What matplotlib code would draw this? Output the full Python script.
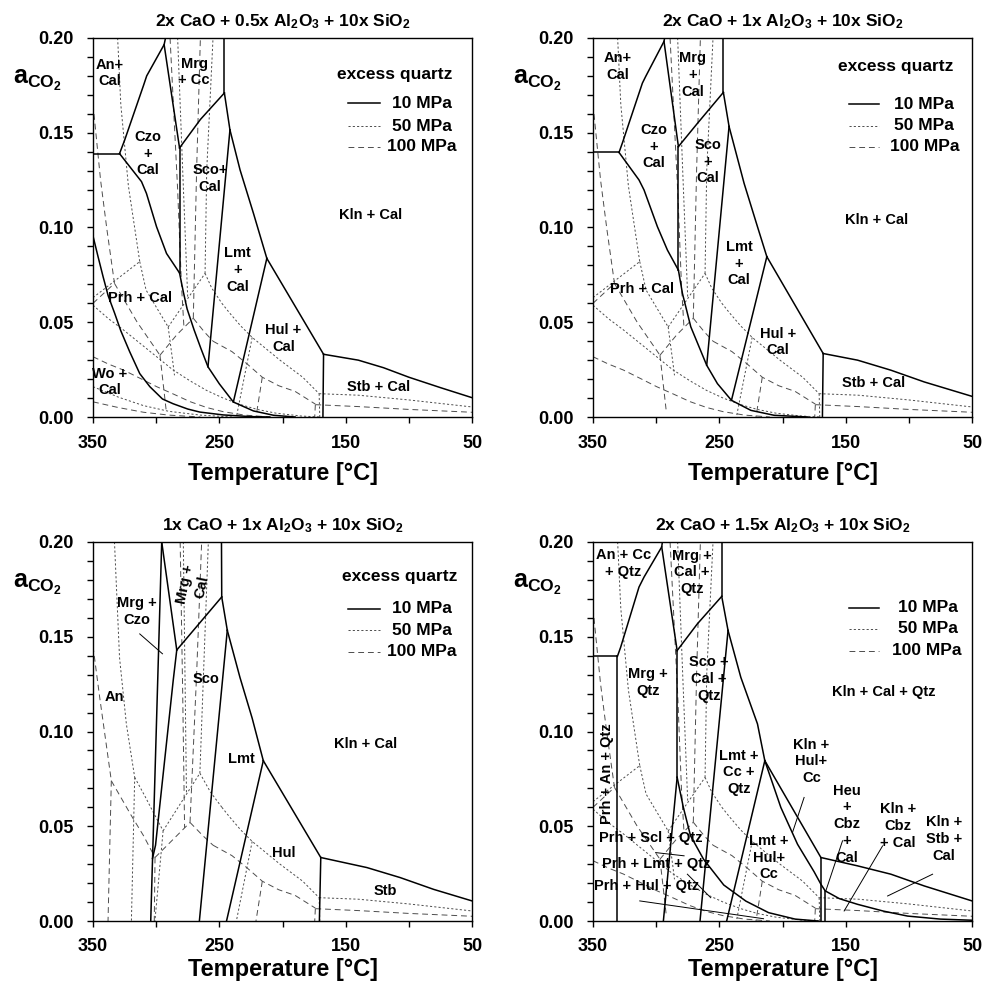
import matplotlib
matplotlib.use('Agg')
import matplotlib.pyplot as plt
from matplotlib.ticker import FixedLocator, MultipleLocator, FormatStrFormatter

plt.rcParams['font.family'] = ['Liberation Sans', 'DejaVu Sans']
plt.rcParams['font.weight'] = 'bold'
plt.rcParams['mathtext.fontset'] = 'custom'
plt.rcParams['mathtext.rm'] = 'Liberation Sans:bold'
plt.rcParams['mathtext.bf'] = 'Liberation Sans:bold'
plt.rcParams['mathtext.it'] = 'Liberation Sans:bold'

# ---- data: polylines as (T [degC], a_CO2) ----
titles = [
    r'2x CaO + 0.5x Al$_\mathbf{2}$O$_\mathbf{3}$ + 10x SiO$_\mathbf{2}$',
    r'2x CaO + 1x Al$_\mathbf{2}$O$_\mathbf{3}$ + 10x SiO$_\mathbf{2}$',
    r'1x CaO + 1x Al$_\mathbf{2}$O$_\mathbf{3}$ + 10x SiO$_\mathbf{2}$',
    r'2x CaO + 1.5x Al$_\mathbf{2}$O$_\mathbf{3}$ + 10x SiO$_\mathbf{2}$',
]
pressures = ['10 MPa', '50 MPa', '100 MPa']

# 10 MPa boundaries
p1_solid = [
    [(350, 0.139), (329, 0.139)],
    [(329, 0.139), (325, 0.146), (310, 0.175), (307.5, 0.180), (293.7, 0.1965), (292.6, 0.2)],
    [(293.7, 0.1965), (281.5, 0.142)],
    [(281.5, 0.142), (281.5, 0.076)],
    [(329, 0.139), (311.6, 0.1242), (307.7, 0.118), (299.7, 0.1004), (291.8, 0.0863), (281.5, 0.076)],
    [(281.5, 0.142), (265, 0.157), (246, 0.171)],
    [(246, 0.2), (246, 0.171)],
    [(246, 0.171), (241.6, 0.1515)],
    [(241.6, 0.1515), (259, 0.0265)],
    [(241.6, 0.1515), (233.6, 0.1304), (223, 0.1075), (212.4, 0.0837)],
    [(212.4, 0.0837), (167.5, 0.0331)],
    [(167.5, 0.0331), (140, 0.030), (120, 0.026), (100, 0.021), (75, 0.0155), (50, 0.0102)],
    [(167.5, 0.0331), (168, 0.0)],
    [(212.4, 0.0837), (238.9, 0.0079)],
    [(281.5, 0.076), (278.5, 0.066), (275.5, 0.057), (270, 0.046), (264.5, 0.036), (259, 0.0265),
     (250, 0.0175), (238.9, 0.0079), (223, 0.0032), (207, 0.0009), (190, 0.0)],
    [(350, 0.0955), (346, 0.0846), (342, 0.074), (338, 0.064), (333, 0.055), (328, 0.0455),
     (321, 0.0345), (313, 0.0229), (305, 0.016), (295, 0.0095), (286.6, 0.007), (275, 0.0042),
     (265.4, 0.0026), (247, 0.0011), (225, 0.0002), (210, 0.0)],
]
p2_solid = [
    [(350, 0.1396), (329.4, 0.1396)],
    [(329.4, 0.1396), (326.8, 0.1445), (310.9, 0.1762), (308.3, 0.1797), (293.8, 0.1982), (293.3, 0.2)],
    [(293.8, 0.1982), (282.4, 0.1427)],
    [(282.4, 0.1427), (282.4, 0.0775)],
    [(329.4, 0.1396), (313.6, 0.1251), (309.6, 0.1198), (299, 0.1004), (291.1, 0.0881), (282.4, 0.0775)],
    [(282.4, 0.1427), (267.3, 0.155), (246.8, 0.1713)],
    [(246.8, 0.2), (246.8, 0.1713)],
    [(246.8, 0.1713), (242.3, 0.1533)],
    [(242.3, 0.1533), (260, 0.0273)],
    [(242.3, 0.1533), (230.4, 0.1233), (219.8, 0.1004), (212.4, 0.0846)],
    [(212.4, 0.0846), (167.8, 0.0335)],
    [(167.8, 0.0335), (140.6, 0.030), (114.2, 0.0247), (87.8, 0.0185), (50, 0.0109)],
    [(167.8, 0.0335), (168.4, 0.0)],
    [(212.4, 0.0846), (240.4, 0.0088)],
    [(282.4, 0.0775), (279.2, 0.0652), (272.6, 0.0476), (260, 0.0273), (251.5, 0.0176),
     (240.4, 0.0088), (225, 0.0035), (206.6, 0.0009), (180, 0.0)],
]
p3_solid = [
    [(295.6, 0.2), (304.3, 0.0)],
    [(295.6, 0.2), (283.7, 0.143)],
    [(283.7, 0.143), (286.5, 0.127), (300.5, 0.040), (302.9, 0.033)],
    [(283.7, 0.143), (248.1, 0.171)],
    [(248.3, 0.2), (248.1, 0.171)],
    [(248.1, 0.171), (243.7, 0.1534)],
    [(243.7, 0.1534), (265.8, 0.0)],
    [(243.7, 0.1534), (233.7, 0.1286), (224, 0.107), (215.2, 0.0846)],
    [(215.2, 0.0846), (169.7, 0.0335)],
    [(169.7, 0.0335), (133.2, 0.0282), (106.8, 0.0229), (80.4, 0.0167), (50, 0.0106)],
    [(169.7, 0.0335), (170.8, 0.0)],
    [(215.2, 0.0846), (244.3, 0.0)],
]
p4_solid = [
    [(350, 0.1396), (330.7, 0.1396)],
    [(330.7, 0.1396), (330.7, 0.0)],
    [(330.7, 0.1396), (328.1, 0.1445), (313.6, 0.1762), (309.6, 0.1815), (295.6, 0.1974), (295.1, 0.2)],
    [(295.6, 0.1974), (283.4, 0.1427)],
    [(283.4, 0.1427), (283.4, 0.0758)],
    [(283.4, 0.0758), (294.3, 0.0)],
    [(283.4, 0.0758), (278.5, 0.060), (272.8, 0.045), (262.5, 0.0326), (246.5, 0.019),
     (229, 0.0105), (211, 0.0044), (190, 0.0010), (172, 0.0)],
    [(283.4, 0.1427), (267.4, 0.1568), (248.1, 0.1713)],
    [(248.1, 0.2), (248.1, 0.1713)],
    [(248.1, 0.1713), (243.1, 0.1533)],
    [(243.1, 0.1533), (265.3, 0.0)],
    [(243.1, 0.1533), (233, 0.1286), (219.8, 0.104), (214, 0.0846)],
    [(214, 0.0846), (169.6, 0.0335)],
    [(169.6, 0.0335), (140.6, 0.0291), (114.2, 0.0247), (87.8, 0.0185), (50, 0.0106)],
    [(169.6, 0.0335), (169.6, 0.0)],
    [(214, 0.0846), (244.2, 0.0)],
    [(214, 0.0846), (201.3, 0.0599), (188.1, 0.0405), (175, 0.026), (169.6, 0.0194), (166.2, 0.0159),
     (155, 0.0118), (140.6, 0.0088), (120, 0.0052), (101, 0.0026), (75, 0.001), (50, 0.0004)],
    [(166.2, 0.0159), (166.2, 0.0)],
]

# 50 MPa boundaries
p50_left = [
    [(330.5, 0.2), (328, 0.165), (322, 0.122), (313, 0.082)],
    [(350, 0.063), (313, 0.082)],
    [(313, 0.082), (308, 0.067), (290.5, 0.0475)],
    [(290.5, 0.0475), (287, 0.030), (285.5, 0.022)],
    [(290.5, 0.0475), (261.3, 0.0758)],
    [(283, 0.2), (279, 0.13), (275, 0.0625)],
    [(261.3, 0.0758), (260, 0.13), (255, 0.2)],
    [(261.3, 0.0758), (256, 0.068), (248, 0.060)],
    [(350, 0.059), (338, 0.052), (326, 0.046), (313, 0.039), (300, 0.032), (287, 0.025),
     (273, 0.019), (260, 0.014), (247, 0.010), (233, 0.0065), (220, 0.004), (205, 0.002),
     (185, 0.0005), (170, 0.0)],
]
p50_right = [
    [(248, 0.060), (242, 0.055), (233, 0.048), (224, 0.042), (213, 0.036), (202, 0.030),
     (184, 0.021), (171, 0.0123)],
    [(224, 0.042), (236.5, 0.0)],
    [(171, 0.0123), (140, 0.0115), (100, 0.009), (50, 0.0053)],
    [(171, 0.0123), (170.5, 0.0)],
]
p1_50_wo = [[(350, 0.016), (330, 0.0105), (310, 0.006), (290, 0.003), (265, 0.001), (240, 0.0)]]
p3_50 = [
    [(333, 0.2), (329, 0.139), (323.6, 0.104), (317, 0.0758)],
    [(317, 0.0758), (309, 0.066), (302, 0.057), (294.5, 0.0476)],
    [(317, 0.0758), (319.6, 0.0)],
    [(294.5, 0.0476), (265.4, 0.078)],
    [(294.5, 0.0476), (301, 0.0)],
    [(278.5, 0.2), (277, 0.12), (276, 0.067)],
    [(265.4, 0.078), (262, 0.14), (258.7, 0.2)],
    [(265.4, 0.078), (257, 0.068), (248, 0.060)],
]

# 100 MPa boundaries
p100_left = [
    [(350, 0.165), (344, 0.125), (339, 0.099), (333, 0.0705)],
    [(350, 0.060), (333, 0.0705)],
    [(333, 0.0705), (315, 0.050), (297, 0.0326)],
    [(297, 0.0326), (294, 0.015), (292, 0.003)],
    [(297, 0.0326), (283.8, 0.0433), (270.6, 0.0521)],
    [(289, 0.2), (283, 0.12), (280, 0.07), (278, 0.0472)],
    [(270.6, 0.0521), (268, 0.13), (265, 0.2)],
    [(270.6, 0.0521), (262, 0.045), (255, 0.040)],
    [(350, 0.0318), (338, 0.028), (326, 0.0248), (313, 0.0205), (299.6, 0.016), (286, 0.012),
     (273.2, 0.0081), (260, 0.005), (246.9, 0.0028), (230, 0.001), (210, 0.0)],
]
p100_right = [
    [(255, 0.040), (240, 0.0345), (228, 0.028), (216, 0.021), (203, 0.0165), (190, 0.0135),
     (174, 0.0068)],
    [(216, 0.021), (221, 0.0)],
    [(174, 0.0065), (140, 0.0055), (100, 0.004), (50, 0.0025)],
    [(174, 0.0065), (174.5, 0.0)],
]
p1_100_wo = [[(350, 0.008), (330, 0.005), (310, 0.0025), (290, 0.001), (265, 0.0)]]
p3_100 = [
    [(350, 0.145), (344.7, 0.118), (335.5, 0.074)],
    [(335.5, 0.074), (338.1, 0.0)],
    [(335.5, 0.074), (320, 0.056), (310, 0.045), (300.9, 0.0335)],
    [(300.9, 0.0335), (273.2, 0.052)],
    [(300.9, 0.0335), (301.5, 0.0)],
    [(281, 0.2), (279, 0.12), (277.5, 0.0491)],
    [(273.2, 0.052), (268, 0.13), (264, 0.2)],
    [(273.2, 0.052), (263, 0.045), (255, 0.040)],
]

# leader lines
p3_pointers = [[(313, 0.1515), (295, 0.141)]]
p4_pointers = [
    [(182.9, 0.0652), (192.1, 0.0467)],
    [(152.5, 0.0423), (165.7, 0.0159)],
    [(120.8, 0.0396), (151.2, 0.0053)],
    [(81.2, 0.0247), (116.8, 0.0132)],
    [(313, 0.0106), (215, 0.0012)],
    [(300.4, 0.0361), (277.9, 0.0344)],
    [(275.3, 0.0247), (256.8, 0.0123)],
]

# field labels: text, T, a, rotation
p1_labels = [
    ('An+\nCal', 336.8, 0.1815, 0), ('Czo\n+\nCal', 306.9, 0.139, 0), ('Mrg\n+ Cc', 269.9, 0.182, 0),
    ('Sco+\nCal', 257.5, 0.126, 0), ('Kln + Cal', 130.6, 0.1066, 0), ('Lmt\n+\nCal', 235.8, 0.0775, 0),
    ('Prh + Cal', 313, 0.0626, 0), ('Hul +\nCal', 199.3, 0.0414, 0), ('Wo +\nCal', 336.8, 0.0185, 0),
    ('Stb + Cal', 124, 0.0159, 0),
]
p2_labels = [
    ('An+\nCal', 330.7, 0.185, 0), ('Mrg\n+\nCal', 271.3, 0.1806, 0), ('Czo\n+\nCal', 302.2, 0.1427, 0),
    ('Sco\n+\nCal', 258.9, 0.1348, 0), ('Kln + Cal', 125.3, 0.104, 0), ('Lmt\n+\nCal', 234.3, 0.081, 0),
    ('Prh + Cal', 311, 0.0678, 0), ('Hul +\nCal', 203.4, 0.0396, 0), ('Stb + Cal', 128.2, 0.018, 0),
]
p3_labels = [
    ('Mrg +\nCzo', 315.1, 0.1635, 0), ('Mrg +\nCal', 270.7, 0.177, 78), ('Sco', 260.7, 0.1278, 0),
    ('An', 332.8, 0.118, 0), ('Lmt', 232.4, 0.0855, 0), ('Kln + Cal', 134, 0.0934, 0),
    ('Hul', 199.3, 0.0361, 0), ('Stb', 118.7, 0.0159, 0),
]
p4_labels = [
    ('An + Cc\n+ Qtz', 326, 0.1885, 0), ('Mrg +\nCal +\nQtz', 271.8, 0.184, 0),
    ('Mrg +\nQtz', 306.4, 0.126, 0), ('Sco +\nCal +\nQtz', 258.1, 0.1278, 0),
    ('Kln + Cal + Qtz', 119.5, 0.1207, 0), ('Prh + An + Qtz', 339, 0.0778, 90),
    ('Lmt +\nCc +\nQtz', 234.3, 0.0784, 0), ('Kln +\nHul+\nCc', 177, 0.0842, 0),
    ('Heu\n+\nCbz\n+\nCal', 149, 0.0511, 0), ('Kln +\nCbz\n+ Cal', 108.4, 0.0502, 0),
    ('Kln +\nStb +\nCal', 72, 0.0432, 0), ('Prh + Scl + Qtz', 304.3, 0.044, 0),
    ('Prh + Lmt + Qtz', 299.8, 0.030, 0), ('Lmt +\nHul+\nCc', 210.6, 0.0335, 0),
    ('Prh + Hul + Qtz', 307.5, 0.0185, 0),
]

panels = [
    dict(solid=p1_solid, mpa50=p50_left + p50_right + p1_50_wo, mpa100=p100_left + p100_right + p1_100_wo,
         pointers=[], labels=p1_labels),
    dict(solid=p2_solid, mpa50=p50_left + p50_right, mpa100=p100_left + p100_right,
         pointers=[], labels=p2_labels),
    dict(solid=p3_solid, mpa50=p3_50 + p50_right, mpa100=p3_100 + p100_right,
         pointers=p3_pointers, labels=p3_labels),
    dict(solid=p4_solid, mpa50=p50_left + p50_right, mpa100=p100_left + p100_right,
         pointers=p4_pointers, labels=p4_labels),
]

# ---- layout ----
W, H = 982, 984
boxes = [(93, 38), (593, 38), (93, 542), (593, 542)]  # left, top in pixels
legend_cfg = [
    dict(title=0.903, rows=(0.828, 0.767, 0.713), line=(0.674, 0.758), text=(0.789, 0.789, 0.775), tx=0.797),
    dict(title=0.925, rows=(0.825, 0.768, 0.713), line=(0.676, 0.755), text=(0.795, 0.795, 0.784), tx=0.799),
    dict(title=0.909, rows=(0.824, 0.767, 0.711), line=(0.674, 0.758), text=(0.789, 0.789, 0.775), tx=0.81),
    dict(title=None, rows=(0.827, 0.771, 0.713), line=(0.676, 0.755), text=(0.805, 0.805, 0.79), tx=0.8),
]
# (y in axes fraction, vertical alignment) of the x label
xlabel_pos = [(-0.148, 'center'), (-0.148, 'center'), (-0.097, 'top'), (-0.097, 'top')]
xtick_pad = [9, 9, 8, 8]

styles = [
    dict(color='black', lw=1.1, ls='-'),
    dict(color='#4d4d4d', lw=0.7, ls=(0, (2.2, 2.2))),
    dict(color='#4d4d4d', lw=0.7, ls=(0, (6, 4))),
]

fig = plt.figure(figsize=(W / 100, H / 100), dpi=100)

for i, pan in enumerate(panels):
    left, top = boxes[i]
    ax = fig.add_axes([left / W, 1 - (top + 379) / H, 379 / W, 379 / H])
    ax.set_xlim(350, 50)
    ax.set_ylim(0, 0.2)

    for line in pan['mpa100']:
        T, a = zip(*line)
        ax.plot(T, a, **styles[2])
    for line in pan['mpa50']:
        T, a = zip(*line)
        ax.plot(T, a, **styles[1])
    for line in pan['solid']:
        T, a = zip(*line)
        ax.plot(T, a, solid_joinstyle='miter', **styles[0])
    for line in pan['pointers']:
        T, a = zip(*line)
        ax.plot(T, a, color='black', lw=0.7)

    for txt, T, a, rot in pan['labels']:
        ax.text(T, a, txt, ha='center', va='center', multialignment='center', rotation=rot,
                fontsize=10.5, fontweight='bold', linespacing=1.25)

    # legend
    cfg = legend_cfg[i]
    if cfg['title'] is not None:
        ax.text(cfg['tx'], cfg['title'], 'excess quartz', transform=ax.transAxes, ha='center',
                va='center', fontsize=12.5, fontweight='bold')
    for k, lab in enumerate(pressures):
        y = cfg['rows'][k]
        ax.plot(cfg['line'], [y, y], transform=ax.transAxes, **styles[k])
        ax.text(cfg['text'][k], y, lab, transform=ax.transAxes, ha='left', va='center',
                fontsize=12.5, fontweight='bold')

    # axes cosmetics
    ax.xaxis.set_major_locator(FixedLocator([350, 250, 150, 50]))
    ax.xaxis.set_minor_locator(FixedLocator([300, 200, 100]))
    ax.yaxis.set_major_locator(MultipleLocator(0.05))
    ax.yaxis.set_minor_locator(MultipleLocator(0.01))
    ax.yaxis.set_major_formatter(FormatStrFormatter('%.2f'))
    ax.tick_params(which='both', direction='out', length=4, width=1)
    ax.tick_params(axis='x', which='major', pad=xtick_pad[i], labelsize=13)
    ax.tick_params(axis='y', which='major', pad=10, labelsize=13)
    for lbl in ax.get_xticklabels() + ax.get_yticklabels():
        lbl.set_fontweight('bold')
    for sp in ax.spines.values():
        sp.set_linewidth(1.0)

    ax.text(0.5, 1.043, titles[i], transform=ax.transAxes, ha='center', va='center',
            fontsize=12.5, fontweight='bold')
    ax.text(0.5, xlabel_pos[i][0], 'Temperature [°C]', transform=ax.transAxes, ha='center',
            va=xlabel_pos[i][1], fontsize=17, fontweight='bold')
    ax.text(-0.211, 0.879, r'$\mathbf{a}_{\mathbf{CO}_\mathbf{2}}$', transform=ax.transAxes,
            ha='left', va='baseline', fontsize=18)

fig.savefig('out.png', dpi=100)
